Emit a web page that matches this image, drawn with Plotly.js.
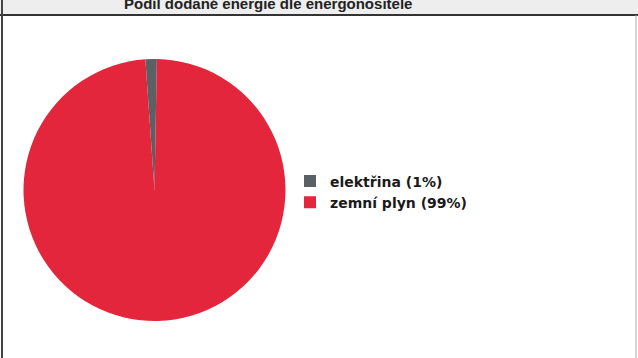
<!DOCTYPE html>
<html>
<head>
<meta charset="utf-8">
<script src="https://cdn.plot.ly/plotly-3.0.1.min.js"></script>
<style>html,body{margin:0;padding:0;background:#fff;}#chart{width:638px;height:358px;}</style>
</head>
<body>
<div id="chart"></div>
<script>
const titleText = "Podíl dodané energie dle energonositele";
const categories = ["elektřina (1%)", "zemní plyn (99%)"];
const values = [1.4, 98.6];
const colors = ["#5b6064", "#e3263b"];

const trace = {
  type: "pie",
  labels: categories,
  values: values,
  sort: false,
  direction: "counterclockwise",
  rotation: -4,
  textinfo: "none",
  hoverinfo: "label+percent",
  marker: {colors: colors, line: {width: 0}},
  domain: {x: [0.0368, 0.4475], y: [0.1034, 0.8352]}
};

const layout = {
  width: 638, height: 358,
  margin: {l: 0, r: 0, t: 0, b: 0},
  paper_bgcolor: "#ffffff",
  showlegend: true,
  legend: {
    x: 290/638, xanchor: "left", y: 1 - 192/358, yanchor: "middle",
    font: {family: "DejaVu Sans", size: 14, color: "#1a1a1a", weight: "bold"},
    bgcolor: "rgba(0,0,0,0)", borderwidth: 0
  },
  shapes: [
    {type: "rect", xref: "paper", yref: "paper", x0: 0, x1: 1, y0: 1 - 15/358, y1: 1, fillcolor: "#eeeeee", line: {width: 0}, layer: "below"},
    {type: "line", xref: "paper", yref: "paper", x0: 0, x1: 1, y0: 1 - 15/358, y1: 1 - 15/358, line: {color: "#333333", width: 2}},
    {type: "line", xref: "paper", yref: "paper", x0: 2/638, x1: 2/638, y0: 0, y1: 1, line: {color: "#444444", width: 2}},
    {type: "line", xref: "paper", yref: "paper", x0: 636/638, x1: 636/638, y0: 0, y1: 1 - 15/358, line: {color: "#aaaaaa", width: 1}}
  ],
  annotations: [
    {text: "<b>" + titleText + "</b>", xref: "paper", yref: "paper", x: 268/638, y: 1 + 7.5/358, xanchor: "center", yanchor: "top", showarrow: false,
     font: {family: "Liberation Sans", size: 15, color: "#222222"}}
  ]
};

Plotly.newPlot("chart", [trace], layout, {displayModeBar: false, staticPlot: true});
</script>
</body>
</html>
